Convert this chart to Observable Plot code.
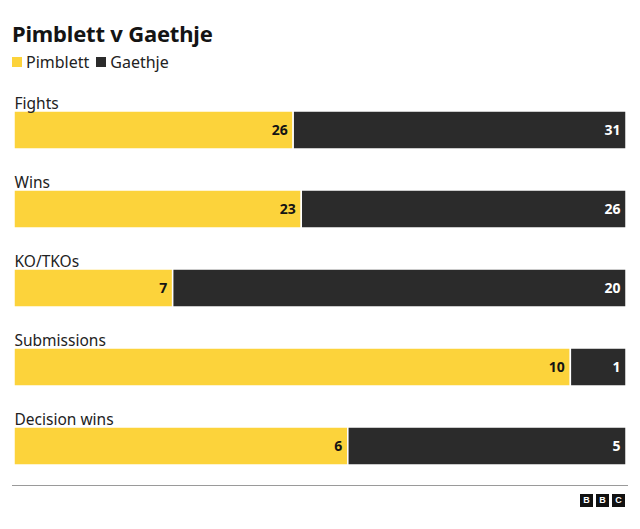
<!DOCTYPE html>
<html>
<head>
<meta charset="utf-8">
<script src="https://cdn.jsdelivr.net/npm/d3@7"></script>
<script src="https://cdn.jsdelivr.net/npm/@observablehq/plot@0.6"></script>
<style>
  body { margin: 0; background: #fff; font-family: "Noto Sans", "Open Sans", sans-serif; color: #141414; }
  #wrap { width: 640px; }
  .title { margin: 20px 0 0 12px; font-size: 22px; line-height: 26px; font-weight: 700; letter-spacing: -0.2px; }
  .legend { margin: 6px 0 0 12px; font-size: 16px; line-height: 20px; display: flex; align-items: center; color: #222; }
  .legend .sw { display: inline-block; width: 10px; height: 10px; margin-right: 4px; }
  .legend .item { display: flex; align-items: center; margin-right: 7px; }
  #chart { height: 395px; margin-top: 8px; }
  .rule { margin: 10px 12px 0 12px; border-top: 1px solid #9a9a9a; height: 0; }
  .bbc { display: flex; justify-content: flex-end; gap: 3px; margin: 8px 15px 0 0; }
  .bbc div { width: 13px; height: 13px; background: #111; color: #fff; font: 700 9px/13px "Liberation Sans", Arial, sans-serif; text-align: center; }
</style>
</head>
<body>
<div id="wrap">
  <div class="title">Pimblett v Gaethje</div>
  <div class="legend" id="legend"></div>
  <div id="chart"></div>
  <div class="rule"></div>
  <div class="bbc"><div>B</div><div>B</div><div>C</div></div>
</div>
<script>
const categories = ["Fights", "Wins", "KO/TKOs", "Submissions", "Decision wins"];
const fighters = ["Pimblett", "Gaethje"];
const pimblett = [26, 23, 7, 10, 6];
const gaethje = [31, 26, 20, 1, 5];
const colors = ["#fcd33b", "#2b2b2b"];
const labelColors = ["#141414", "#ffffff"];

const data = [];
categories.forEach((c, i) => {
  data.push({category: c, fighter: fighters[0], value: pimblett[i]});
  data.push({category: c, fighter: fighters[1], value: gaethje[i]});
});

const legend = document.getElementById("legend");
fighters.forEach((f, i) => {
  const it = document.createElement("span");
  it.className = "item";
  it.innerHTML = `<span class="sw" style="background:${colors[i]}"></span>${f}`;
  legend.appendChild(it);
});

const chart = Plot.plot({
  width: 640,
  height: 395,
  marginLeft: 14,
  marginRight: 14,
  marginTop: 0,
  marginBottom: 0,
  x: {axis: null, domain: [0, 1]},
  y: {axis: null, domain: categories, range: [31, 385], paddingInner: 0.519, paddingOuter: 0},
  color: {domain: fighters, range: colors},
  style: {fontFamily: "Noto Sans, Open Sans, sans-serif"},
  marks: [
    Plot.barX(data, Plot.stackX({
      x: "value", y: "category", fill: "fighter", z: "fighter",
      offset: "normalize", order: null,
      stroke: "#fff", strokeWidth: 1.5
    })),
    ...fighters.map((f, i) => Plot.text(data, Plot.stackX2({
      x: "value", y: "category", z: "fighter", offset: "normalize", order: null,
      text: d => d.fighter === f ? String(d.value) : null,
      textAnchor: "end", dx: -6, fill: labelColors[i],
      fontWeight: 700, fontSize: 14
    }))),
    Plot.text(categories, {
      y: d => d, text: d => d, frameAnchor: "left", textAnchor: "start",
      lineAnchor: "bottom", dy: -22, fontSize: 15.5, fill: "#222"
    })
  ]
});
document.getElementById("chart").appendChild(chart);
</script>
</body>
</html>
